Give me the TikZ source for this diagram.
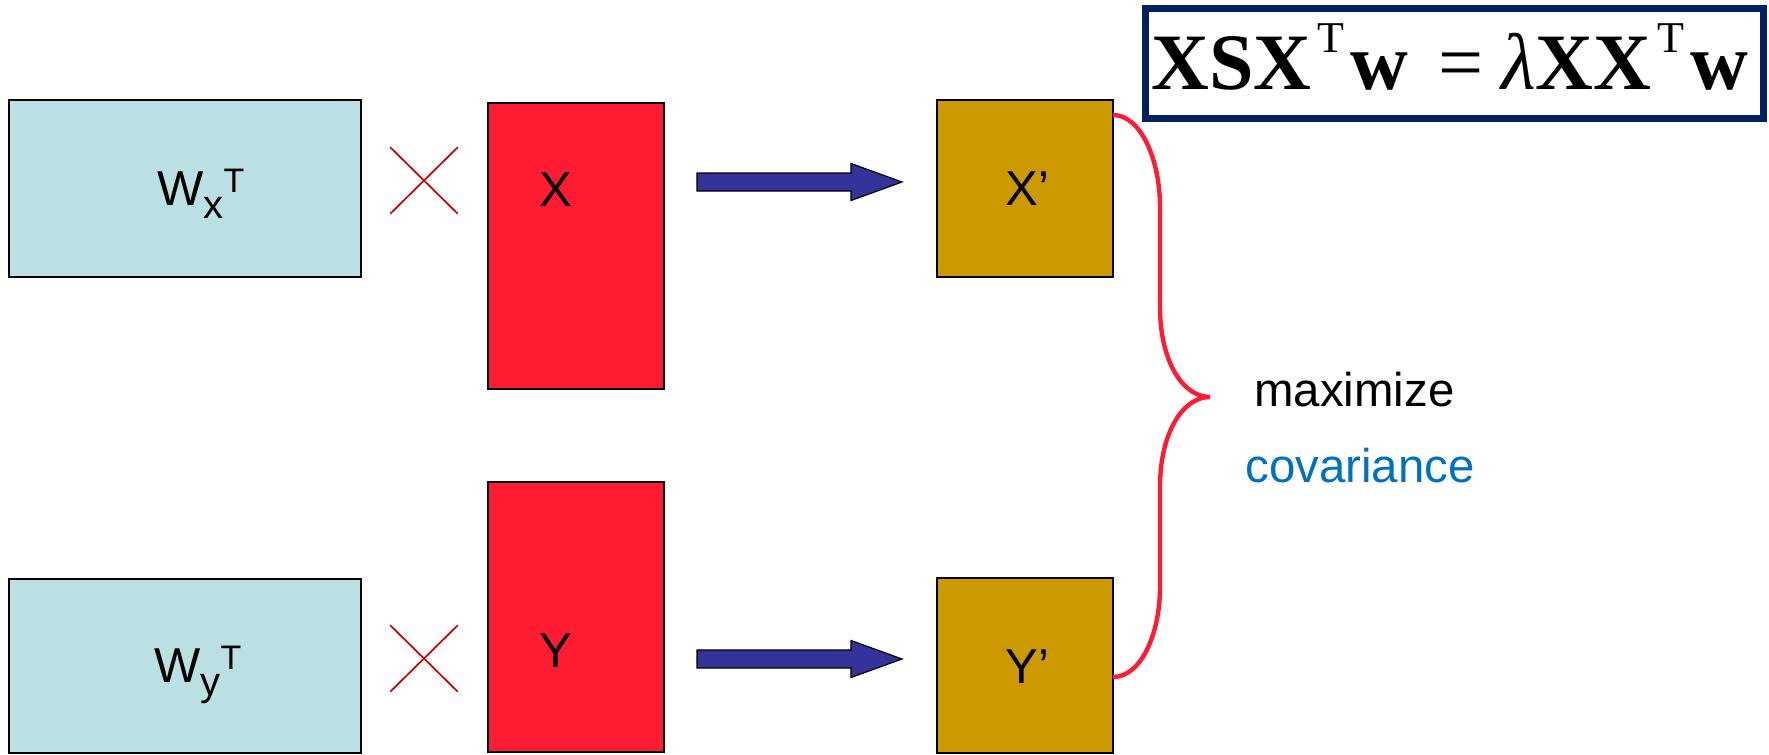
\documentclass[tikz,border=0pt]{standalone}
\usepackage{fontspec}
\setmainfont{Liberation Sans}
\newfontfamily\eqfont{Liberation Serif}
\usetikzlibrary{calc,shapes.misc}
\definecolor{wfill}{RGB}{187,224,227}
\definecolor{datared}{RGB}{255,28,51}
\definecolor{projgold}{RGB}{204,153,0}
\definecolor{arrowblue}{RGB}{51,51,153}
\definecolor{crossred}{RGB}{204,0,0}
\definecolor{eqnavy}{RGB}{0,32,96}
\definecolor{covblue}{RGB}{0,112,192}
% block arrow between two named coordinates (shaft half-width 9, head half-width 18.5, head length 51)
\newcommand\blockarrowdraw[2]{%
  \draw[blockarrow] ($(#1)+(0,-9)$) -- ($(#2)+(-51,-9)$) -- ($(#2)+(-51,-18.5)$) -- (#2)
    -- ($(#2)+(-51,18.5)$) -- ($(#2)+(-51,9)$) -- ($(#1)+(0,9)$) -- cycle;}
% transpose mark of the eigenproblem
\newcommand\eqtr{\kern3pt\raisebox{19pt}{\fontsize{22}{22}\selectfont\mdseries T}\kern3pt}
\begin{document}
\begin{tikzpicture}[x=0.5pt,y=-0.5pt,
  mat/.style={draw=black,line width=1pt,inner sep=0pt,outer sep=0pt,anchor=north west},
  lbl/.style={font=\fontsize{24.5}{28}\selectfont,inner sep=0pt},
  mult/.style={cross out,draw=crossred,line width=0.85pt,minimum width=33pt,minimum height=32.5pt,inner sep=0pt},
  blockarrow/.style={fill=arrowblue,draw=black,line width=0.6pt,line join=miter},
  bracecurve/.style={draw=datared,line width=2.2pt},
  eqbox/.style={draw=eqnavy,line width=3.5pt,fill=white,minimum width=309pt,minimum height=55pt,inner sep=0pt}]
\useasboundingbox (0,0) rectangle (1769,755);

% matrices of the top row
\node[mat,fill=wfill,minimum width=176pt,minimum height=88.5pt] (wx) at (9,100) {};
\node[mat,fill=datared,minimum width=88pt,minimum height=143pt] (xm) at (488,103) {};
\node[mat,fill=projgold,minimum width=88pt,minimum height=88.5pt] (xp) at (937,100) {};
% matrices of the bottom row
\node[mat,fill=wfill,minimum width=176pt,minimum height=87pt] (wy) at (9,579) {};
\node[mat,fill=datared,minimum width=88pt,minimum height=135pt] (ym) at (488,482) {};
\node[mat,fill=projgold,minimum width=88pt,minimum height=87.5pt] (yp) at (937,578) {};

% labels
\node[lbl,anchor=base west] (wxl) at (157,205) {W\raisebox{-6.5pt}{\fontsize{20}{20}\selectfont x}\raisebox{6.5pt}{\fontsize{17}{17}\selectfont T}};
\node[lbl,anchor=base west] (wyl) at (154,682) {W\raisebox{-6.5pt}{\fontsize{20}{20}\selectfont y}\raisebox{6.5pt}{\fontsize{17}{17}\selectfont T}};
\node[lbl,anchor=base] (xl) at (556,206) {X};
\node[lbl,anchor=base] (yl) at (556,667) {Y};
\node[lbl,anchor=base west] (xpl) at (1005,205) {X’};
\node[lbl,anchor=base west] (ypl) at (1005,683) {Y’};

% multiplication signs
\node[mult] (cx) at (424,180.5) {};
\node[mult] (cy) at (424,658.5) {};

% projection arrows
\coordinate (ax1) at (697,182);
\coordinate (ax2) at (902,182);
\coordinate (ay1) at (697,659);
\coordinate (ay2) at (902,659);
\blockarrowdraw{ax1}{ax2}
\blockarrowdraw{ay1}{ay2}

% brace joining the two projections
\coordinate (bt) at (1113,115);
\coordinate (bm) at (1210,397);
\coordinate (bb) at (1113,677);
\draw[bracecurve] (bt) .. controls (1141,115) and (1160,160) .. (1160,207) -- (1160,307)
  .. controls (1160,360) and (1182,397) .. (bm)
  .. controls (1182,397) and (1160,434) .. (1160,487) -- (1160,587)
  .. controls (1160,634) and (1141,677) .. (bb);

\node[lbl,anchor=base west,font=\fontsize{23.7}{28}\selectfont] (maxl) at (1254,406) {maximize};
\node[lbl,anchor=base west,font=\fontsize{23.7}{28}\selectfont,text=covblue] (covl) at (1245,482) {covariance};

% eigenproblem
\node[eqbox] (eq) at (1454.5,63.5) {};
\node[inner sep=0pt,anchor=base west] (eqt) at (1151,90) {\eqfont\fontsize{40}{40}\selectfont\bfseries
  XSX\eqtr w\hspace{15pt}{\mdseries =}\hspace{9pt}{\mdseries\itshape λ}XX\eqtr w};
\end{tikzpicture}
\end{document}
